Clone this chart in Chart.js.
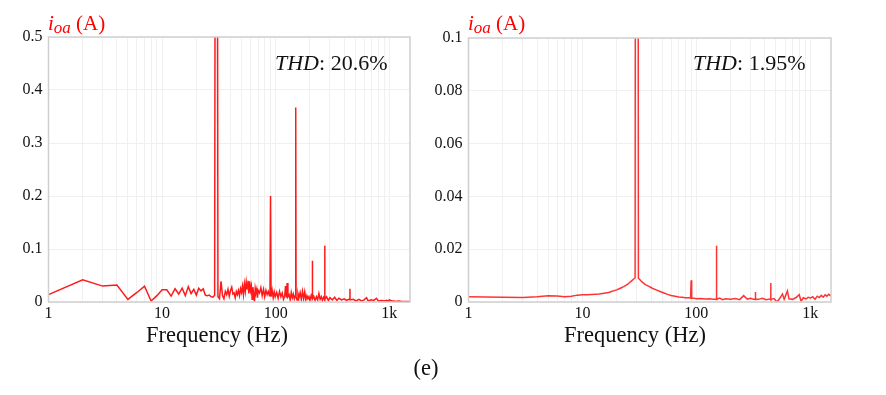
<!DOCTYPE html>
<html>
<head>
<meta charset="utf-8">
<script src="https://cdn.jsdelivr.net/npm/chart.js@4/dist/chart.umd.min.js"></script>
<style>
    body {
        margin: 0;
        width: 886px;
        height: 395px;
        background: #fff;
        position: relative;
        overflow: hidden;
        font-family: "Liberation Serif", "Times New Roman", serif;
    }

    canvas {
        position: absolute;
        top: 0;
    }

    .txt {
        position: absolute;
        white-space: nowrap;
        line-height: 1;
        color: #111;
    }

    .unit {
        color: #ff0000;
        font-size: 21px;
    }

    .unit i sub {
        font-size: 17px;
        vertical-align: -3px;
    }

    .thd {
        font-size: 22px;
    }

    .xt {
        font-size: 22.5px;
        transform: translateX(-50%);
    }
</style>
</head>
<body>

<canvas id="left" width="430" height="395" style="left:0"></canvas>
<canvas id="right" width="430" height="395" style="left:420px"></canvas>

<div class="txt unit" style="left:48px; top:13px"><i>i<sub>oa</sub></i> (A)</div>
<div class="txt unit" style="left:468px; top:13px"><i>i<sub>oa</sub></i> (A)</div>

<div class="txt thd" style="left:275px; top:52px"><i>THD</i>: 20.6%</div>
<div class="txt thd" style="left:693px; top:52px"><i>THD</i>: 1.95%</div>

<div class="txt xt" style="left:217px; top:324px">Frequency (Hz)</div>
<div class="txt xt" style="left:635px; top:324px">Frequency (Hz)</div>

<div class="txt xt" style="left:426px; top:357px">(e)</div>

<script>
// --- left panel: i_oa spectrum, THD 20.6% ---
const freqLeft = [
    1, 2, 3, 4, 5, 6, 7, 8, 9, 10,
    11, 12, 13, 14, 15, 16, 17, 18, 19, 20,
    21, 22, 23, 24, 25, 26, 27, 28, 29, 30,
    31, 32, 33, 34, 35, 36, 37, 38, 39, 40,
    41, 42, 43, 44, 45, 46, 47, 48, 49, 50,
    51, 52, 53, 54, 55, 56, 57, 58, 59, 60,
    61, 62, 63, 64, 65, 66, 67, 68, 69, 70,
    72, 74, 76, 78, 80, 82, 84, 86, 88, 89,
    90, 91, 93, 95, 97, 99, 102, 105, 108, 111,
    114, 117, 120, 122, 124, 126, 128, 131, 134, 137,
    140, 143, 146, 149, 150, 151, 154, 157, 160, 164,
    168, 172, 176, 180, 184, 188, 192, 196, 200, 205,
    209, 210, 211, 216, 222, 228, 234, 240, 246, 252,
    258, 264, 269, 270, 271, 280, 290, 300, 315, 330,
    345, 360, 380, 400, 420, 440, 449, 450, 451, 480,
    510, 540, 570, 600, 630, 650, 690, 730, 770, 800,
    850, 900, 950, 990, 1000, 1050, 1100, 1150, 1200, 1300,
    1400, 1500, 1600
];
const ampLeft = [
    0.014, 0.042, 0.030, 0.032, 0.005, 0.018, 0.030, 0.002, 0.012, 0.023,
    0.023, 0.011, 0.025, 0.015, 0.026, 0.012, 0.029, 0.016, 0.024, 0.013,
    0.026, 0.021, 0.025, 0.013, 0.012, 0.013, 0.010, 0.009, 0.013, 2.4,
    0.010, 0.006, 0.039, 0.012, 0.006, 0.020, 0.014, 0.024, 0.011, 0.022,
    0.028, 0.015, 0.017, 0.008, 0.020, 0.014, 0.022, 0.012, 0.025, 0.018,
    0.030, 0.014, 0.034, 0.020, 0.038, 0.025, 0.040, 0.016, 0.039, 0.022,
    0.030, 0.005, 0.028, 0.012, 0.000, 0.026, 0.018, 0.024, 0.008, 0.022,
    0.017, 0.027, 0.012, 0.024, 0.010, 0.022, 0.014, 0.020, 0.012, 0.015,
    0.200, 0.010, 0.022, 0.008, 0.019, 0.010, 0.018, 0.007, 0.020, 0.010,
    0.017, 0.005, 0.012, 0.030, 0.008, 0.036, 0.010, 0.014, 0.004, 0.018,
    0.008, 0.015, 0.006, 0.012, 0.367, 0.010, 0.004, 0.016, 0.008, 0.018,
    0.005, 0.020, 0.006, 0.019, 0.004, 0.012, 0.006, 0.010, 0.003, 0.012,
    0.006, 0.078, 0.006, 0.011, 0.003, 0.010, 0.004, 0.016, 0.005, 0.010,
    0.003, 0.009, 0.006, 0.106, 0.005, 0.010, 0.003, 0.008, 0.004, 0.009,
    0.003, 0.007, 0.004, 0.006, 0.003, 0.005, 0.005, 0.025, 0.004, 0.005,
    0.002, 0.005, 0.002, 0.004, 0.008, 0.002, 0.004, 0.003, 0.007, 0.002,
    0.003, 0.002, 0.003, 0.001, 0.004, 0.002, 0.002, 0.001, 0.002, 0.001,
    0.001, 0.001, 0.001
];
const yTicksLeft = [0, 0.1, 0.2, 0.3, 0.4, 0.5];

// --- right panel: i_oa spectrum, THD 1.95% ---
const freqRight = [
    1, 2, 3, 4, 5, 6, 7, 8, 9, 10,
    11, 12, 13, 14, 15, 16, 17, 18, 19, 20,
    21, 22, 23, 24, 25, 26, 27, 28, 29, 30,
    31, 32, 33, 34, 35, 36, 38, 40, 42, 45,
    48, 52, 56, 60, 65, 70, 75, 80, 85, 89,
    90, 91, 95, 100, 110, 120, 130, 140, 149, 150,
    151, 160, 170, 180, 200, 220, 240, 260, 280, 300,
    320, 329, 330, 331, 350, 380, 410, 449, 450, 451,
    480, 510, 540, 570, 590, 630, 650, 700, 750, 800,
    830, 870, 920, 960, 1000, 1050, 1100, 1150, 1200, 1250,
    1300, 1350, 1400, 1450, 1500, 1550, 1600
];
const ampRight = [
    0.0020, 0.0018, 0.0017, 0.0020, 0.0024, 0.0023, 0.0020, 0.0022, 0.0026, 0.0027,
    0.0027, 0.0028, 0.0029, 0.0030, 0.0032, 0.0034, 0.0036, 0.0040, 0.0043, 0.0046,
    0.0050, 0.0054, 0.0058, 0.0063, 0.0068, 0.0074, 0.0080, 0.0086, 0.0092, 0.85,
    0.0090, 0.0084, 0.0078, 0.0073, 0.0069, 0.0065, 0.0060, 0.0055, 0.0050, 0.0045,
    0.0040, 0.0034, 0.0029, 0.0025, 0.0022, 0.0019, 0.0018, 0.0016, 0.0016, 0.0015,
    0.0082, 0.0014, 0.0014, 0.0012, 0.0013, 0.0011, 0.0012, 0.0010, 0.0011, 0.0213,
    0.0010, 0.0015, 0.0009, 0.0012, 0.0010, 0.0013, 0.0009, 0.0024, 0.0011, 0.0014,
    0.0010, 0.0012, 0.0038, 0.0011, 0.0010, 0.0014, 0.0009, 0.0012, 0.0072, 0.0010,
    0.0013, 0.0000, 0.0014, 0.0030, 0.0010, 0.0042, 0.0012, 0.0010, 0.0017, 0.0028,
    0.0003, 0.0016, 0.0012, 0.0018, 0.0015, 0.0020, 0.0010, 0.0022, 0.0017, 0.0025,
    0.0018, 0.0027, 0.0022, 0.0029, 0.0024, 0.0031, 0.0028
];
const yTicksRight = [0, 0.02, 0.04, 0.06, 0.08, 0.1];

// x axis: decade labels, minor grid lines in between
const xMin = 1;
const xMax = 1520;
const xLabels = { 1: "1", 10: "10", 100: "100", 1000: "1k" };

Chart.defaults.font.family = "'Liberation Serif', 'Times New Roman', serif";
Chart.defaults.color = "#111";

// light frame around the plot area
const framePlugin = {
    id: "frame",
    afterDraw(chart) {
        const a = chart.chartArea;
        const ctx = chart.ctx;
        ctx.save();
        ctx.strokeStyle = "#cfcfcf";
        ctx.lineWidth = 1.5;
        ctx.strokeRect(a.left, a.top, a.right - a.left, a.bottom - a.top);
        ctx.restore();
    }
};

function makeSpectrum(id, freqs, amps, yTicks, opts) {
    const points = freqs.map((f, i) => ({ x: f, y: amps[i] }));
    const yMax = yTicks[yTicks.length - 1];

    return new Chart(document.getElementById(id), {
        type: "scatter",
        data: {
            datasets: [{
                data: points,
                showLine: true,
                borderColor: opts.color,
                borderWidth: opts.width,
                pointRadius: 0,
                tension: 0
            }]
        },
        options: {
            responsive: false,
            animation: false,
            layout: {
                padding: { top: opts.top, right: opts.right, left: 0, bottom: 0 }
            },
            plugins: {
                legend: { display: false },
                tooltip: { enabled: false }
            },
            scales: {
                x: {
                    type: "logarithmic",
                    min: xMin,
                    max: xMax,
                    afterBuildTicks(scale) {
                        const t = [];
                        for (let d = 1; d <= 1000; d *= 10) {
                            for (let m = 1; m <= 9; m++) {
                                if (m * d <= xMax) t.push({ value: m * d });
                            }
                        }
                        scale.ticks = t;
                    },
                    afterFit(scale) {
                        scale.height = 93;
                    },
                    ticks: {
                        autoSkip: false,
                        maxRotation: 0,
                        padding: 2,
                        font: { size: 16 },
                        callback: v => xLabels[v] || ""
                    },
                    grid: { color: "#f0f0f0", drawTicks: false },
                    border: { display: false }
                },
                y: {
                    min: 0,
                    max: yMax,
                    afterBuildTicks(scale) {
                        scale.ticks = yTicks.map(v => ({ value: v }));
                    },
                    afterFit(scale) {
                        scale.width = opts.left;
                    },
                    ticks: {
                        padding: 6,
                        font: { size: 16 },
                        callback: v => String(v)
                    },
                    grid: { color: "#f0f0f0", drawTicks: false },
                    border: { display: false }
                }
            }
        },
        plugins: [framePlugin]
    });
}

makeSpectrum("left", freqLeft, ampLeft, yTicksLeft,
    { color: "rgba(255,0,0,0.9)", width: 1.5, top: 37, right: 20, left: 48.5 });
makeSpectrum("right", freqRight, ampRight, yTicksRight,
    { color: "rgba(255,0,0,0.8)", width: 1.5, top: 38, right: 19, left: 48.5 });
</script>
</body>
</html>
